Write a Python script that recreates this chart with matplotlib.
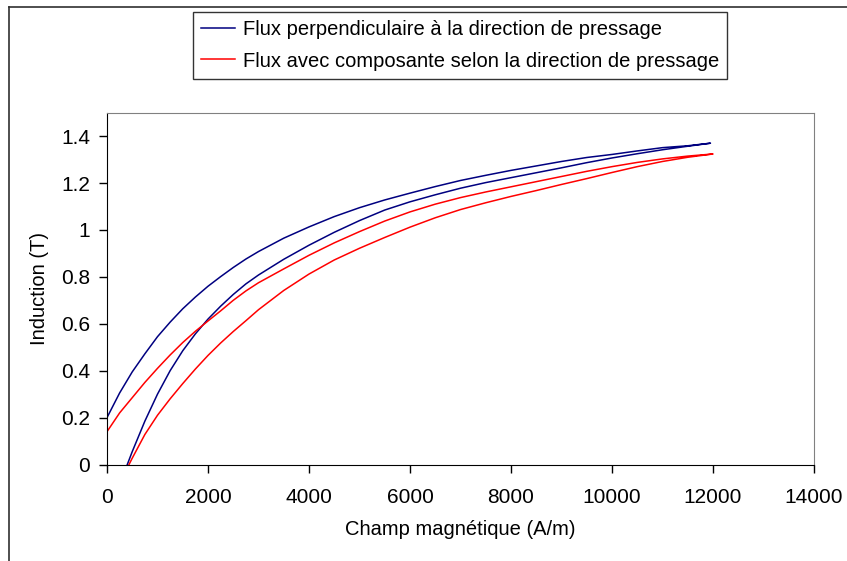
import matplotlib
matplotlib.use("Agg")
import matplotlib.pyplot as plt
from matplotlib.lines import Line2D
from matplotlib.ticker import FuncFormatter, MultipleLocator

plt.rcParams['font.family'] = ['Liberation Sans', 'DejaVu Sans']

# Flux perpendiculaire (H en A/m, B en T)
h_perp_mont = [402, 500, 750, 1000, 1250, 1500, 1750, 2000, 2250, 2500, 2750, 3000,
               3500, 4000, 4500, 5000, 5500, 6000, 6500, 7000, 7500, 8000, 8500,
               9000, 9500, 10000, 10500, 11000, 11500, 11950]
b_perp_mont = [0.0, 0.055, 0.185, 0.300, 0.400, 0.485, 0.557, 0.620, 0.675, 0.725, 0.770, 0.808,
               0.875, 0.935, 0.990, 1.040, 1.085, 1.120, 1.150, 1.178, 1.202, 1.223, 1.244,
               1.265, 1.287, 1.307, 1.325, 1.342, 1.357, 1.370]
h_perp_desc = [11950, 11500, 11000, 10500, 10000, 9500, 9000, 8500, 8000, 7500, 7000,
               6500, 6000, 5500, 5000, 4500, 4000, 3500, 3000, 2750, 2500, 2250, 2000,
               1750, 1500, 1250, 1000, 750, 500, 250, 0]
b_perp_desc = [1.370, 1.359, 1.351, 1.337, 1.322, 1.309, 1.292, 1.273, 1.254, 1.233, 1.211,
               1.185, 1.157, 1.128, 1.095, 1.057, 1.013, 0.965, 0.908, 0.876, 0.840, 0.801, 0.760,
               0.714, 0.664, 0.607, 0.545, 0.472, 0.395, 0.305, 0.200]

# Flux avec composante selon la direction de pressage
h_comp_mont = [436, 500, 750, 1000, 1250, 1500, 1750, 2000, 2250, 2500, 2750, 3000,
               3500, 4000, 4500, 5000, 5500, 6000, 6500, 7000, 7500, 8000, 8500,
               9000, 9500, 10000, 10500, 11000, 11500, 12000]
b_comp_mont = [0.0, 0.027, 0.128, 0.210, 0.280, 0.345, 0.407, 0.465, 0.518, 0.567, 0.613, 0.660,
               0.742, 0.812, 0.872, 0.922, 0.968, 1.012, 1.052, 1.087, 1.116, 1.143, 1.168,
               1.194, 1.219, 1.245, 1.270, 1.292, 1.310, 1.324]
h_comp_desc = [12000, 11500, 11000, 10500, 10000, 9500, 9000, 8500, 8000, 7500, 7000,
               6500, 6000, 5500, 5000, 4500, 4000, 3500, 3000, 2750, 2500, 2250, 2000,
               1750, 1500, 1250, 1000, 750, 500, 250, 0]
b_comp_desc = [1.324, 1.315, 1.303, 1.288, 1.270, 1.250, 1.228, 1.206, 1.184, 1.162, 1.138,
               1.110, 1.077, 1.038, 0.993, 0.945, 0.892, 0.834, 0.775, 0.740, 0.700, 0.655, 0.612,
               0.568, 0.520, 0.467, 0.410, 0.350, 0.285, 0.220, 0.140]

labels = ["Flux perpendiculaire à la direction de pressage",
          "Flux avec composante selon la direction de pressage"]

fig = plt.figure(figsize=(8.47, 5.61), dpi=100)
W, H = 847, 561

# cadre extérieur (coupé à droite et en bas)
fig.add_artist(Line2D([9 / W, 9 / W], [0, 1 - 7 / H], color='#303030', lw=1.2))
fig.add_artist(Line2D([9 / W, 1], [1 - 7 / H, 1 - 7 / H], color='#303030', lw=1.2))

ax = fig.add_axes([107 / W, 1 - 464.5 / H, 707 / W, (464.5 - 112.7) / H])
ax.plot(h_perp_mont + h_perp_desc, b_perp_mont + b_perp_desc,
        color='#000080', lw=1.1, label=labels[0])
ax.plot(h_comp_mont + h_comp_desc, b_comp_mont + b_comp_desc,
        color='#FF0000', lw=1.1, label=labels[1])

ax.set_xlim(0, 14000)
ax.set_ylim(0, 1.5)
ax.xaxis.set_major_locator(MultipleLocator(2000))
ax.yaxis.set_major_locator(MultipleLocator(0.2))
ax.yaxis.set_major_formatter(FuncFormatter(lambda v, p: '%g' % round(v, 2) if v <= 1.41 else ''))
ax.tick_params(direction='out', length=6, width=1, labelsize=15, color='black')
ax.tick_params(axis='y', pad=6)
ax.tick_params(axis='x', pad=11)

for s in ['top', 'right']:
    ax.spines[s].set_color('#808080')
for s in ['left', 'bottom']:
    ax.spines[s].set_color('black')

ax.set_xlabel("Champ magnétique (A/m)", fontsize=14.5, labelpad=9)
ax.set_ylabel("Induction (T)", fontsize=14.5, labelpad=9)

leg = fig.legend(loc='upper center', bbox_to_anchor=(460 / W, 1 - 12 / H),
                 fontsize=14.5, frameon=True, fancybox=False, edgecolor='black',
                 handlelength=1.7, handletextpad=0.4, labelspacing=0.62,
                 borderpad=0.4, borderaxespad=0)
leg.get_frame().set_linewidth(1.0)

fig.savefig("out.png", dpi=100)
